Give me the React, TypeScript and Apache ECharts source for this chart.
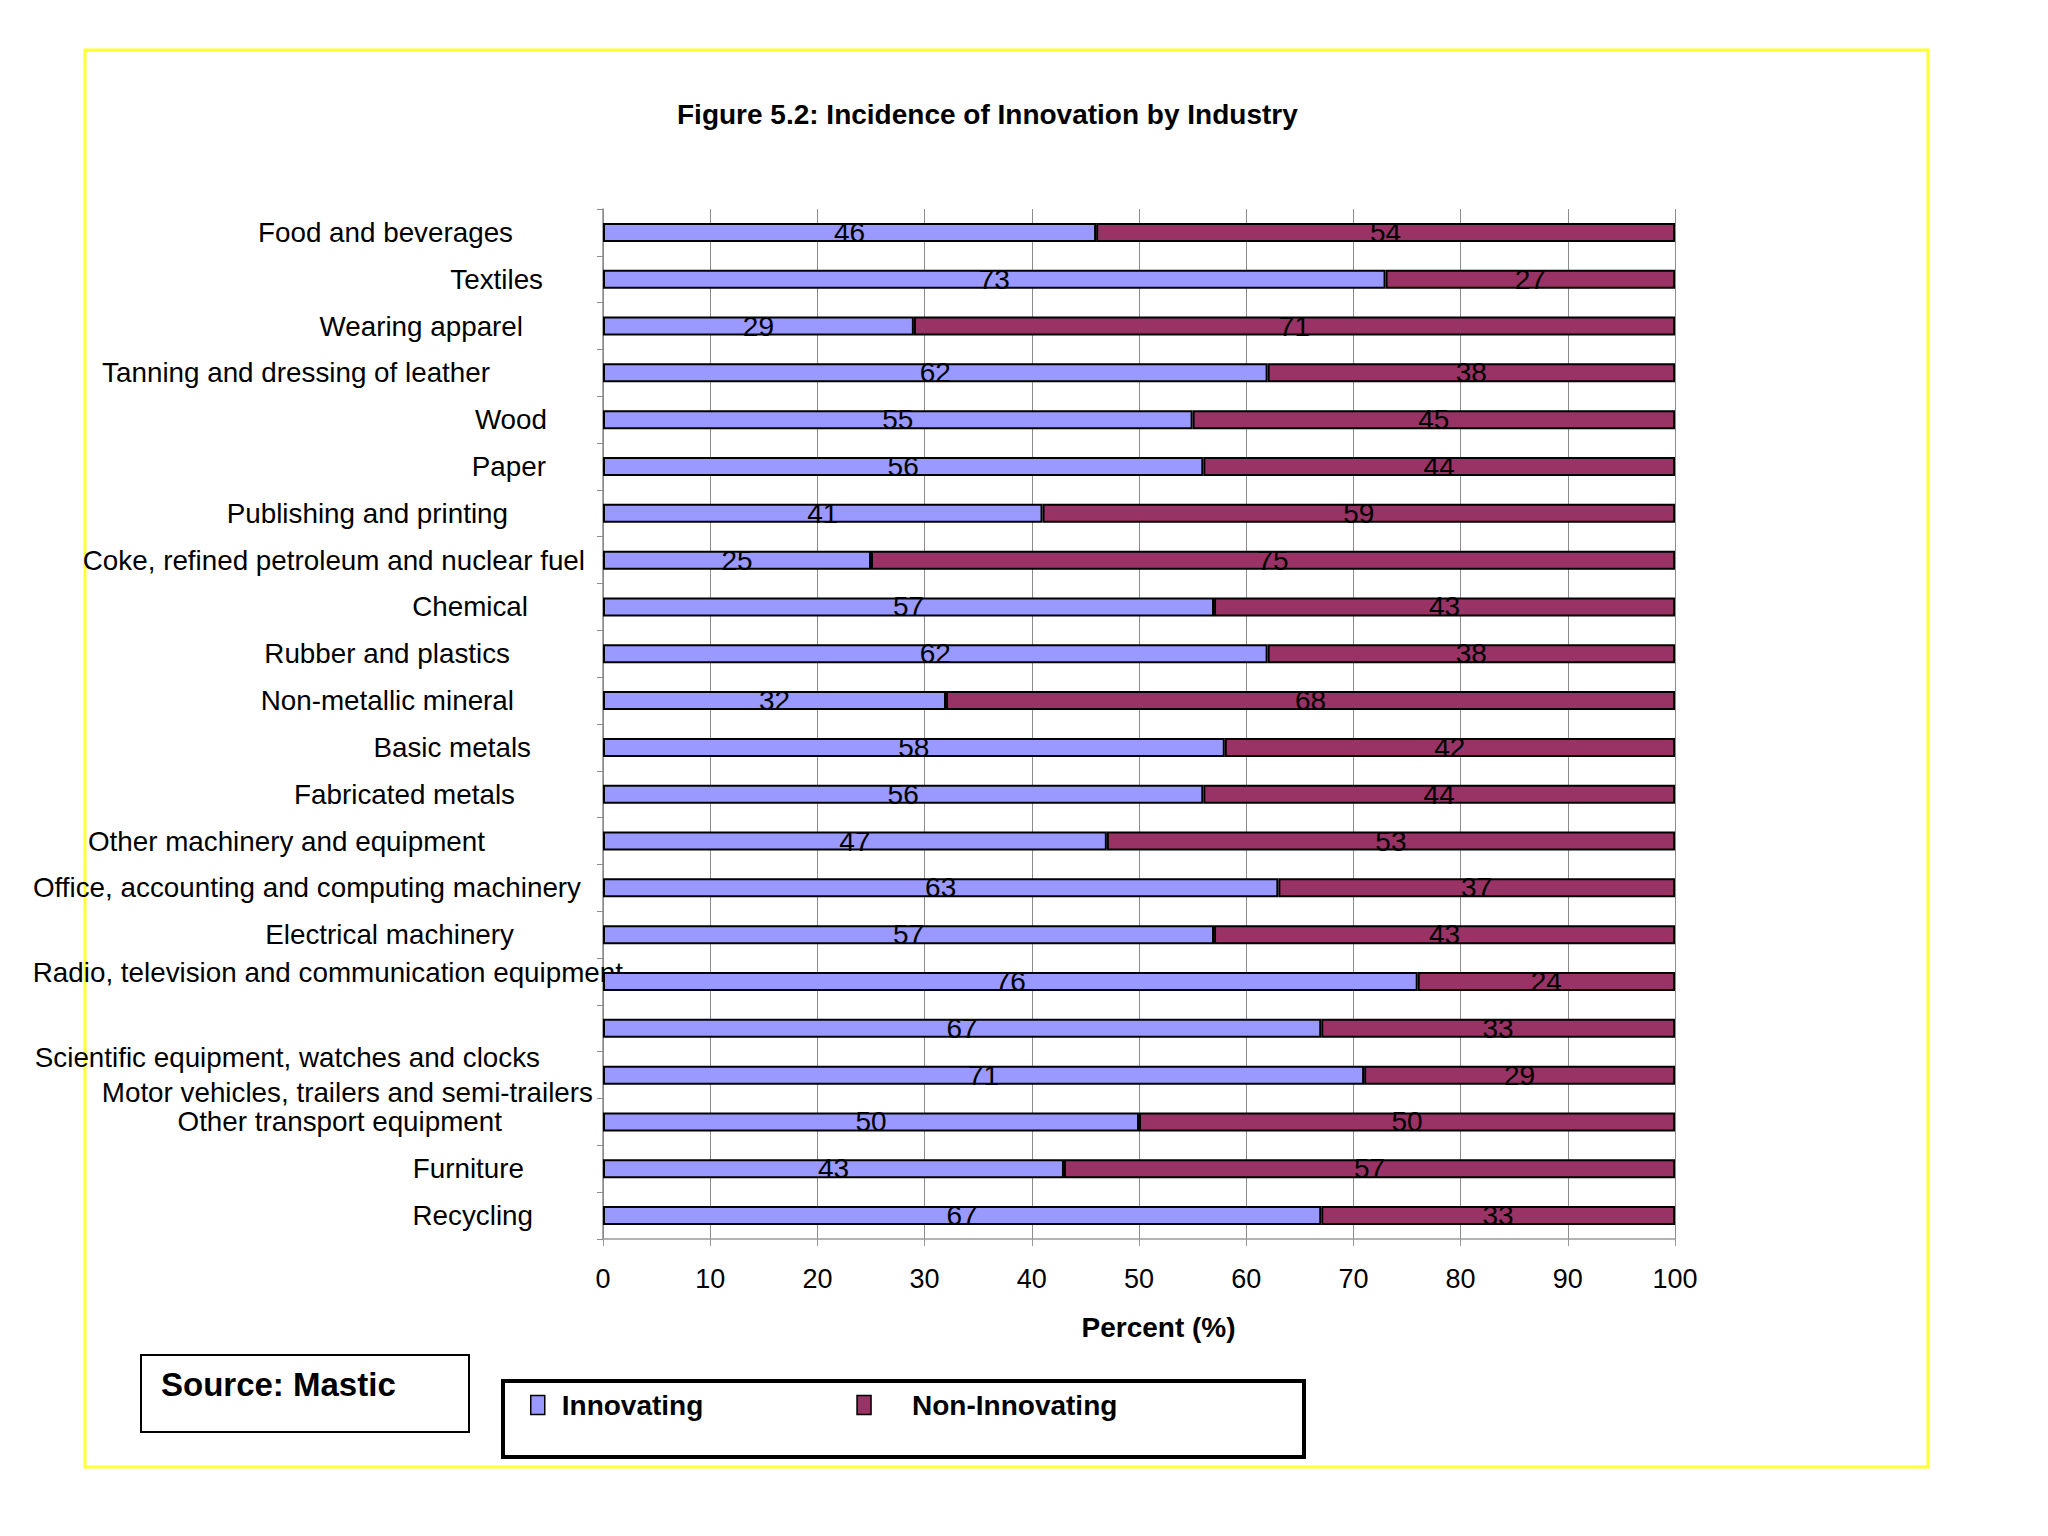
import React, { useEffect, useRef } from "react";
import * as echarts from "echarts";

const categories = [
  "Food and beverages",
  "Textiles",
  "Wearing apparel",
  "Tanning and dressing of leather",
  "Wood",
  "Paper",
  "Publishing and printing",
  "Coke, refined petroleum and nuclear fuel",
  "Chemical",
  "Rubber and plastics",
  "Non-metallic mineral",
  "Basic metals",
  "Fabricated metals",
  "Other machinery and equipment",
  "Office, accounting and computing machinery",
  "Electrical machinery",
  "Radio, television and communication equipment",
  "Scientific equipment, watches and clocks",
  "Motor vehicles, trailers and semi-trailers",
  "Other transport equipment",
  "Furniture",
  "Recycling",
];

const innovating = [46, 73, 29, 62, 55, 56, 41, 25, 57, 62, 32, 58, 56, 47, 63, 57, 76, 67, 71, 50, 43, 67];
const nonInnovating = [54, 27, 71, 38, 45, 44, 59, 75, 43, 38, 68, 42, 44, 53, 37, 43, 24, 33, 29, 50, 57, 33];

const seriesNames = ["Innovating", "Non-Innovating"];
const seriesColors = ["#9999FF", "#993366"];

// per-label layout offsets (styling of the category labels as in the reference)
const labelPadRight = [112, 82, 102, 135, 78, 79, 117, 40, 97, 115, 111, 94, 110, 140, 44, 111, 2, 85, 32, 123, 101, 92];
const labelShiftY = [0, 0, 0, 0, 0, 0, 0, 0, 0, 0, 0, 0, 0, 0, 0, 0, -9, 29, 17, 0, 0, 0];

const FONT = "'Liberation Sans', Arial, Helvetica, sans-serif";

export default function App() {
  const ref = useRef<HTMLDivElement>(null);

  useEffect(() => {
    document.body.style.margin = "0";
    if (!ref.current) return;
    const chart = echarts.init(ref.current, null, { renderer: "svg" });

    const rich: Record<string, any> = {};
    categories.forEach((_, i) => {
      const s = labelShiftY[i];
      rich["r" + i] = {
        fontSize: 27.8,
        fontFamily: FONT,
        color: "#000",
        padding: s >= 0 ? [2 * s, labelPadRight[i], 0, 0] : [0, labelPadRight[i], -2 * s, 0],
      };
    });

    const legendText = { fontSize: 28, fontWeight: "bold", color: "#000", fontFamily: FONT };

    const option: any = {
      animation: false,
      backgroundColor: "#ffffff",
      title: {
        text: "Figure 5.2: Incidence of Innovation by Industry",
        left: 672,
        top: 95,
        textStyle: { fontSize: 28, fontWeight: "bold", color: "#000", fontFamily: FONT },
      },
      legend: {
        data: seriesNames,
        left: 525,
        top: 1386,
        itemWidth: 14,
        itemHeight: 19,
        itemGap: 153,
        icon: "rect",
        itemStyle: { borderColor: "#000", borderWidth: 1.5 },
        formatter: (name: string) => (name === seriesNames[0] ? `{a|${name}}` : `{b|${name}}`),
        textStyle: {
          ...legendText,
          rich: {
            a: { ...legendText, padding: [0, 0, 0, 12] },
            b: { ...legendText, padding: [0, 0, 0, 36] },
          },
        },
      },
      grid: { left: 603, right: 373, top: 209, bottom: 297, containLabel: false },
      xAxis: {
        type: "value",
        min: 0,
        max: 100,
        interval: 10,
        name: "Percent (%)",
        nameLocation: "middle",
        nameGap: 74,
        nameTextStyle: { fontSize: 28, fontWeight: "bold", color: "#000", fontFamily: FONT, padding: [0, 0, 0, 39] },
        axisLine: { show: true, lineStyle: { color: "#999999", width: 1.5 } },
        axisTick: { show: true, length: 7, lineStyle: { color: "#999999" } },
        axisLabel: { fontSize: 27, color: "#000", fontFamily: FONT, margin: 26 },
        splitLine: { show: true, lineStyle: { color: "#8c8c8c", width: 1 } },
      },
      yAxis: {
        type: "category",
        data: categories,
        inverse: true,
        axisLine: { show: true, lineStyle: { color: "#8c8c8c", width: 1.5 } },
        axisTick: { show: true, length: 6, lineStyle: { color: "#8c8c8c" } },
        splitLine: { show: false },
        axisLabel: {
          interval: 0,
          margin: -22,
          align: "right",
          formatter: (value: string, index: number) => `{r${index}|${value}}`,
          rich,
        },
      },
      series: [
        {
          name: seriesNames[0],
          type: "bar",
          stack: "total",
          data: innovating,
          barWidth: 19,
          itemStyle: { color: seriesColors[0], borderColor: "#000", borderWidth: 2 },
          label: { show: true, position: "inside", color: "#000", fontSize: 28, fontFamily: FONT },
        },
        {
          name: seriesNames[1],
          type: "bar",
          stack: "total",
          data: nonInnovating,
          barWidth: 19,
          itemStyle: { color: seriesColors[1], borderColor: "#000", borderWidth: 2 },
          label: { show: true, position: "inside", color: "#000", fontSize: 28, fontFamily: FONT },
        },
      ],
      graphic: [
        {
          type: "rect",
          shape: { x: 85, y: 50, width: 1843, height: 1417 },
          style: { fill: "none", stroke: "#ffff33", lineWidth: 3 },
          silent: true,
          z: 0,
        },
        {
          type: "rect",
          shape: { x: 141, y: 1355, width: 328, height: 77 },
          style: { fill: "#fff", stroke: "#000", lineWidth: 2 },
          z: 1,
        },
        {
          type: "text",
          x: 161,
          y: 1384,
          style: {
            text: "Source: Mastic",
            fontSize: 33,
            fontWeight: "bold",
            fontFamily: FONT,
            fill: "#000",
            verticalAlign: "middle",
          },
          z: 2,
        },
        {
          type: "rect",
          shape: { x: 503, y: 1381, width: 801, height: 76 },
          style: { fill: "none", stroke: "#000", lineWidth: 4 },
          z: 1,
        },
      ],
    };

    chart.setOption(option);
    return () => chart.dispose();
  }, []);

  return <div ref={ref} style={{ width: 2048, height: 1536 }} />;
}
